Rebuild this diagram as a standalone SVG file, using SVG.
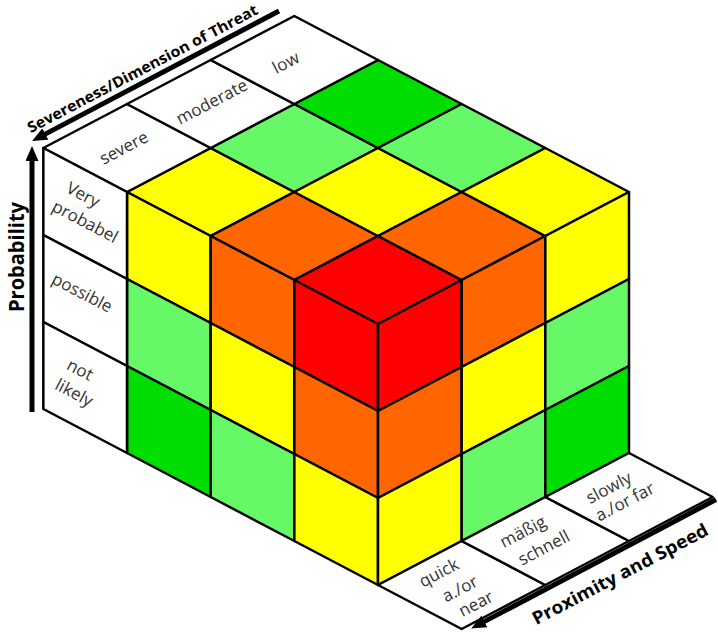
<svg xmlns="http://www.w3.org/2000/svg" width="718" height="634" viewBox="0 0 718 634">
<style>
.c{stroke:#000;stroke-width:2.5;stroke-linejoin:round}
.w{fill:#fff}
.y{fill:#ffff00}
.o{fill:#ff6600}
.r{fill:#ff0000}
.lg{fill:#66f866}
.g{fill:#00dd00}
.lbl{font-family:"Open Sans","Liberation Sans",sans-serif;font-size:17px;fill:#333;text-anchor:middle}
.ttl{font-family:"Open Sans","Liberation Sans",sans-serif;font-weight:bold;fill:#000;text-anchor:middle}
.ax{stroke:#000;stroke-width:5;fill:none}
</style>
<defs>
<marker id="ah" markerUnits="userSpaceOnUse" markerWidth="15" markerHeight="13" viewBox="0 0 15 13" refX="4" refY="6.5" orient="auto">
<path d="M0,0 L15,6.5 L0,13 z" fill="#000"/>
</marker>
</defs>
<rect width="718" height="634" fill="#fff"/>

<g id="top-face">
<polygon id="t00" class="c y" points="127,192 210.67,148 294.33,192 210.67,236"/>
<polygon id="t10" class="c lg" points="210.67,148 294.33,104 378,148 294.33,192"/>
<polygon id="t20" class="c g" points="294.33,104 378,60 461.67,104 378,148"/>
<polygon id="t01" class="c o" points="210.67,236 294.33,192 378,236 294.33,280"/>
<polygon id="t11" class="c y" points="294.33,192 378,148 461.67,192 378,236"/>
<polygon id="t21" class="c lg" points="378,148 461.67,104 545.33,148 461.67,192"/>
<polygon id="t02" class="c r" points="294.33,280 378,236 461.67,280 378,324"/>
<polygon id="t12" class="c o" points="378,236 461.67,192 545.33,236 461.67,280"/>
<polygon id="t22" class="c y" points="461.67,192 545.33,148 629,192 545.33,236"/>
</g>

<g id="left-face">
<polygon id="l00" class="c y" points="127,192 210.67,236 210.67,323 127,279"/>
<polygon id="l01" class="c lg" points="127,279 210.67,323 210.67,410 127,366"/>
<polygon id="l02" class="c g" points="127,366 210.67,410 210.67,497 127,453"/>
<polygon id="l10" class="c o" points="210.67,236 294.33,280 294.33,367 210.67,323"/>
<polygon id="l11" class="c y" points="210.67,323 294.33,367 294.33,454 210.67,410"/>
<polygon id="l12" class="c lg" points="210.67,410 294.33,454 294.33,541 210.67,497"/>
<polygon id="l20" class="c r" points="294.33,280 378,324 378,411 294.33,367"/>
<polygon id="l21" class="c o" points="294.33,367 378,411 378,498 294.33,454"/>
<polygon id="l22" class="c y" points="294.33,454 378,498 378,585 294.33,541"/>
</g>

<g id="right-face">
<polygon id="r00" class="c r" points="378,324 461.67,280 461.67,367 378,411"/>
<polygon id="r01" class="c o" points="378,411 461.67,367 461.67,454 378,498"/>
<polygon id="r02" class="c y" points="378,498 461.67,454 461.67,541 378,585"/>
<polygon id="r10" class="c o" points="461.67,280 545.33,236 545.33,323 461.67,367"/>
<polygon id="r11" class="c y" points="461.67,367 545.33,323 545.33,410 461.67,454"/>
<polygon id="r12" class="c lg" points="461.67,454 545.33,410 545.33,497 461.67,541"/>
<polygon id="r20" class="c y" points="545.33,236 629,192 629,279 545.33,323"/>
<polygon id="r21" class="c lg" points="545.33,323 629,279 629,366 545.33,410"/>
<polygon id="r22" class="c g" points="545.33,410 629,366 629,453 545.33,497"/>
</g>

<g id="label-severe">
<polygon class="c w" points="43.33,148 127,104 210.67,148 127,192"/>
<g transform="translate(124,148) rotate(-27.7)"><text class="lbl" y="5.5">severe</text></g>
</g>
<g id="label-moderate">
<polygon class="c w" points="127,104 210.67,60 294.33,104 210.67,148"/>
<g transform="translate(212,102) rotate(-27.7)"><text class="lbl" y="5.5">moderate</text></g>
</g>
<g id="label-low">
<polygon class="c w" points="210.67,60 294.33,16 378,60 294.33,104"/>
<g transform="translate(286,63) rotate(-27.7)"><text class="lbl" y="5.5">low</text></g>
</g>

<g id="label-very-probabel">
<polygon class="c w" points="43.33,148 127,192 127,279 43.33,235"/>
<g transform="translate(83,195) rotate(27.7)"><text class="lbl" y="5.5">Very</text></g>
<g transform="translate(85,222) rotate(27.7)"><text class="lbl" y="5.5">probabel</text></g>
</g>
<g id="label-possible">
<polygon class="c w" points="43.33,235 127,279 127,366 43.33,322"/>
<g transform="translate(82,293) rotate(27.7)"><text class="lbl" y="5.5">possible</text></g>
</g>
<g id="label-not-likely">
<polygon class="c w" points="43.33,322 127,366 127,453 43.33,409"/>
<g transform="translate(80,370) rotate(27.7)"><text class="lbl" y="5.5">not</text></g>
<g transform="translate(74,393) rotate(27.7)"><text class="lbl" y="5.5">likely</text></g>
</g>

<g id="label-quick">
<polygon class="c w" points="378,585 461.67,541 545.33,585 461.67,629"/>
<g transform="translate(439,573) rotate(-27.7)"><text class="lbl" y="5.5">quick</text></g>
<g transform="translate(460,589) rotate(-27.7)"><text class="lbl" y="5.5">a./or</text></g>
<g transform="translate(476,604) rotate(-27.7)"><text class="lbl" y="5.5">near</text></g>
</g>
<g id="label-maessig">
<polygon class="c w" points="461.67,541 545.33,497 629,541 545.33,585"/>
<g transform="translate(523,532) rotate(-27.7)"><text class="lbl" y="5.5">mäßig</text></g>
<g transform="translate(544,548) rotate(-27.7)"><text class="lbl" y="5.5">schnell</text></g>
</g>
<g id="label-slowly">
<polygon class="c w" points="545.33,497 629,453 712.67,497 629,541"/>
<g transform="translate(609,488) rotate(-27.7)"><text class="lbl" y="5.5">slowly</text></g>
<g transform="translate(625,502) rotate(-27.7)"><text class="lbl" y="5.5">a./or far</text></g>
</g>

<g id="axes">
<line class="ax" x1="279" y1="11" x2="41.85" y2="135.85" marker-end="url(#ah)"/>
<line class="ax" x1="32" y1="412" x2="32" y2="157" marker-end="url(#ah)"/>
<line class="ax" x1="716" y1="499.5" x2="480.85" y2="623.35" marker-end="url(#ah)"/>
</g>

<g id="titles">
<text class="ttl" font-size="15" transform="translate(148.5,80) rotate(-27.7)" y="-7.5" textLength="258" lengthAdjust="spacingAndGlyphs">Severeness/Dimension of Threat</text>
<text class="ttl" font-size="22" transform="translate(24,257) rotate(-90)" textLength="110" lengthAdjust="spacingAndGlyphs">Probability</text>
<text class="ttl" font-size="18" transform="translate(610,555) rotate(-27.7)" y="28" textLength="196" lengthAdjust="spacingAndGlyphs">Proximity and Speed</text>
</g>
</svg>
